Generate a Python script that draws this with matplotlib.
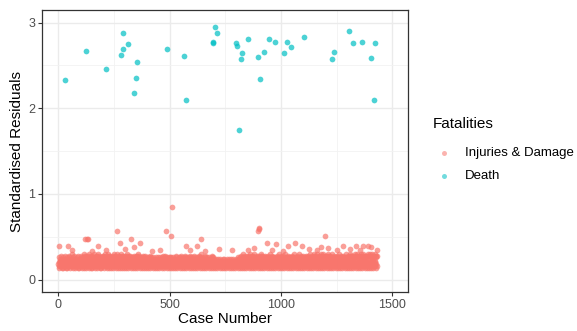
import numpy as np
import matplotlib
matplotlib.use("Agg")
import matplotlib.pyplot as plt
from matplotlib.lines import Line2D

plt.rcParams['font.family'] = ['Liberation Sans', 'DejaVu Sans']

# Death cases (case number, standardised residual)
death_case = [30, 124, 213, 292, 313, 290, 281, 352, 347, 341, 488, 564, 573,
              702, 713, 696, 696, 796, 801, 852, 826, 820, 811, 906, 895, 924,
              945, 975, 1028, 1043, 1013, 1103, 1237, 1231, 1305, 1325, 1365,
              1424, 1404, 1419]
death_resid = [2.33, 2.67, 2.46, 2.88, 2.75, 2.69, 2.62, 2.54, 2.35, 2.18, 2.69,
               2.61, 2.10, 2.95, 2.88, 2.78, 2.76, 2.76, 2.73, 2.81, 2.64, 2.58,
               1.75, 2.34, 2.60, 2.66, 2.81, 2.77, 2.78, 2.72, 2.65, 2.83, 2.66,
               2.58, 2.90, 2.76, 2.77, 2.76, 2.59, 2.10]

# Injuries & Damage residuals, one digit per case starting at case 1
# residual = 0.14 + 0.02 * digit
injury_levels = (
    "2316024135142703152631042513722405136124023154271632501423181423052641273140521331426501274213052431"
    "3527140623164820351724037152631572406138321604725147023156281435206173264170352831572460134620315274"
    "2734061528341527064316283045172736041525314720683415263702416318250473251740632816340257173240615273"
    "1536204718240361527431724052614130625173251403612736071425382417305261142360517232154061272413052614"
    "1324051627203145261331405262131243051624231504126314025361243215061427214035261713245062134132065216"
    "2314052613142306251431204526172413052136132406251721403526133214052617134206152421350426173124056213"
    "1423061527231405261331420625171234051628241306251331240526171432051624231406251312430526173214061523"
    "1324051423214035142331240524131243041523231405132414230425133214051423124305231421340514233124052413"
    "1423052614231406251731420526181234061527241307251631240627181432061527231407261812430625173214072516"
    "2413062718132407251631420626172413051627132406251832140526171432062516231405162712430625183124052617"
    "1423062517231405261831420615271243062516241305261731240615281432052617231406251812430516273214062517"
    "1324051627241306251731420526181243061527231406271814320726183124062517241307261813420627183214072617"
    "2413062718132407261731420526181243061527231405261714320625183124051627241306251713420526183214061527"
    "1423062718231407261731420627181243072618241306271731240726181432062718231407261713420627183214072618"
    "241307261813240627183142072617"
)
# higher Injuries & Damage residuals
injury_high_case = [5, 45, 122, 128, 132, 177, 264, 278, 327, 340, 368, 482, 506,
                    510, 574, 623, 643, 778, 895, 901, 903, 936, 978, 1033, 1064,
                    1093, 1180, 1198, 1210, 1280, 1335, 1370, 1390, 1405, 1430,
                    60, 150, 215, 300, 420, 455, 590, 660, 720, 850, 880, 960,
                    1010, 1125, 1160, 1250, 1310, 1355]
injury_high_resid = [0.39, 0.39, 0.47, 0.47, 0.47, 0.39, 0.57, 0.43, 0.47, 0.38,
                     0.43, 0.57, 0.51, 0.85, 0.39, 0.39, 0.47, 0.35, 0.57, 0.59,
                     0.60, 0.43, 0.42, 0.39, 0.43, 0.39, 0.38, 0.51, 0.37, 0.39,
                     0.39, 0.39, 0.39, 0.38, 0.35,
                     0.34, 0.33, 0.35, 0.36, 0.33, 0.34, 0.35, 0.33, 0.36, 0.34,
                     0.37, 0.35, 0.33, 0.36, 0.34, 0.35, 0.36, 0.34]

injury_case = list(range(1, len(injury_levels) + 1)) + injury_high_case
injury_resid = [0.14 + 0.02 * int(c) for c in injury_levels] + injury_high_resid

red = '#F8766D'
cyan = '#00BFC4'

W, H = 577, 331
fig = plt.figure(figsize=(W / 100, H / 100), dpi=100)
ax = fig.add_axes([42 / W, 1 - 292 / H, (408 - 42) / W, (292 - 10) / H])

ax.scatter(injury_case, injury_resid, s=17, color=red, alpha=0.7, linewidths=0, zorder=3)
ax.scatter(death_case, death_resid, s=17, color=cyan, alpha=0.7, linewidths=0, zorder=3)

ax.set_xlim(-73, 1570)
ax.set_ylim(-0.146, 3.148)
ax.set_xticks([0, 500, 1000, 1500])
ax.set_yticks([0, 1, 2, 3])
ax.set_xticks([250, 750, 1250], minor=True)
ax.set_yticks([0.5, 1.5, 2.5], minor=True)
ax.grid(which='major', color='#EBEBEB', linewidth=1.0, zorder=0)
ax.grid(which='minor', color='#F2F2F2', linewidth=0.6, zorder=0)
ax.set_axisbelow(True)
ax.tick_params(which='major', length=3, width=0.8, color='#333333',
               labelsize=9, labelcolor='#4D4D4D', pad=2)
ax.tick_params(which='minor', length=0)
for sp in ax.spines.values():
    sp.set_color('#333333')
    sp.set_linewidth(0.9)

ax.set_xlabel('Case Number', fontsize=11, labelpad=1)
ax.set_ylabel('Standardised Residuals', fontsize=11, labelpad=3)

# legend
fig.text(432.7 / W, 1 - 124 / H, 'Fatalities', fontsize=11, va='center', ha='left')
for lab, col, yy in [('Injuries & Damage', red, 152.7), ('Death', cyan, 175.7)]:
    fig.add_artist(Line2D([444.3 / W], [1 - yy / H], marker='o', markersize=3.6,
                          color=col, alpha=0.55, markeredgewidth=0,
                          transform=fig.transFigure))
    fig.text(465 / W, 1 - yy / H, lab, fontsize=9.5, va='center', ha='left')

fig.savefig('out.png', dpi=100, facecolor='white')
